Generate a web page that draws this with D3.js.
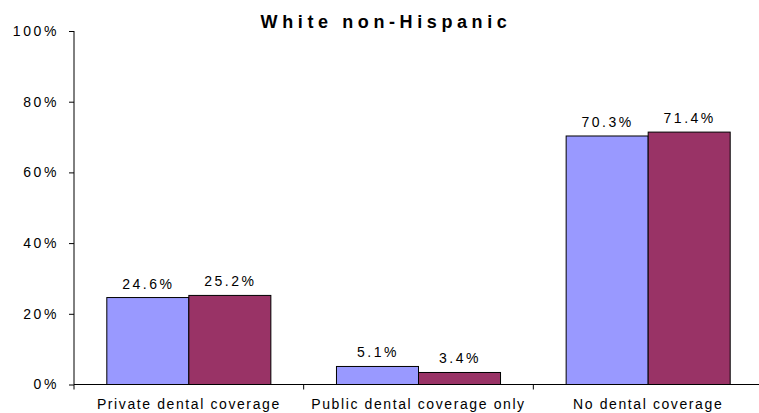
<!DOCTYPE html>
<html>
<head>
<meta charset="utf-8">
<script src="https://cdn.jsdelivr.net/npm/d3@7"></script>
<style>
  html, body { margin: 0; padding: 0; background: #fff; }
  svg { display: block; font-family: "Liberation Sans", Arial, sans-serif; }
</style>
</head>
<body>
<svg id="chart" width="759" height="413"></svg>
<script>
const title = "White non-Hispanic";
const categories = ["Private dental coverage", "Public dental coverage only", "No dental coverage"];
const seriesNames = ["Series A", "Series B"];
const seriesA = [0.246, 0.051, 0.703];
const seriesB = [0.252, 0.034, 0.714];
const yTicks = [0, 0.2, 0.4, 0.6, 0.8, 1.0];
const colors = ["#9999FF", "#993366"];

const svg = d3.select("#chart");
const mLeft = 74, mRight = 763, mTop = 31, mBottom = 384.5;

const x0 = d3.scaleBand().domain(categories).range([mLeft, mRight]).paddingInner(0).paddingOuter(0);
const x1 = d3.scaleBand().domain(seriesNames).range([0, x0.bandwidth()]).paddingInner(0).paddingOuter(0.4);
const y = d3.scaleLinear().domain([0, 1]).range([mBottom, mTop]);

const values = [seriesA, seriesB];
const rows = categories.map((c, i) => ({ cat: c, vals: seriesNames.map((s, j) => ({ s, v: values[j][i], color: colors[j] })) }));

// title
svg.append("text")
  .attr("x", 386).attr("y", 27.5)
  .attr("text-anchor", "middle")
  .style("font-weight", "bold").style("font-size", "18px").style("letter-spacing", "4.6px")
  .attr("fill", "#000")
  .text(title);

// bars
const g = svg.append("g");
const grp = g.selectAll("g.grp").data(rows).join("g")
  .attr("transform", d => `translate(${x0(d.cat)},0)`);
grp.selectAll("rect").data(d => d.vals).join("rect")
  .attr("x", d => x1(d.s))
  .attr("y", d => y(d.v))
  .attr("width", x1.bandwidth())
  .attr("height", d => y(0) - y(d.v))
  .attr("fill", d => d.color)
  .attr("stroke", "#000").attr("stroke-width", 1);
grp.selectAll("text").data(d => d.vals).join("text")
  .attr("x", d => x1(d.s) + x1.bandwidth() / 2 + 0.5)
  .attr("y", d => y(d.v) - 9)
  .attr("text-anchor", "middle")
  .style("font-size", "14px").style("letter-spacing", "2.5px")
  .attr("fill", "#000")
  .text(d => (d.v * 100).toFixed(1) + "%");

// y axis
const yAxis = d3.axisLeft(y).tickValues(yTicks).tickFormat(d => Math.round(d * 100) + "%").tickSize(5).tickPadding(10);
const ya = svg.append("g").attr("transform", `translate(${mLeft},0)`).call(yAxis);
ya.select(".domain").attr("stroke", "#000").attr("d", `M0,${mTop}V${mBottom}`);
ya.selectAll(".tick line").attr("stroke", "#000");
ya.selectAll(".tick text").attr("fill", "#000").style("font-size", "14px").style("letter-spacing", "2.6px");
ya.attr("font-family", null).attr("font-size", null);

// x axis
const xAxis = d3.axisBottom(x0).tickSize(0).tickPadding(15);
const xa = svg.append("g").attr("transform", `translate(0,${mBottom})`).call(xAxis);
xa.select(".domain").attr("stroke", "#000").attr("d", `M${mLeft},0H${mRight}`);
xa.selectAll(".tick text").attr("fill", "#000").style("font-size", "14px").style("letter-spacing", "1.6px");
xa.attr("font-family", null).attr("font-size", null);
// boundary ticks between categories
xa.selectAll("line.sep").data(categories).join("line").attr("class", "sep")
  .attr("x1", d => x0(d)).attr("x2", d => x0(d))
  .attr("y1", 0).attr("y2", 5).attr("stroke", "#000");
</script>
</body>
</html>
